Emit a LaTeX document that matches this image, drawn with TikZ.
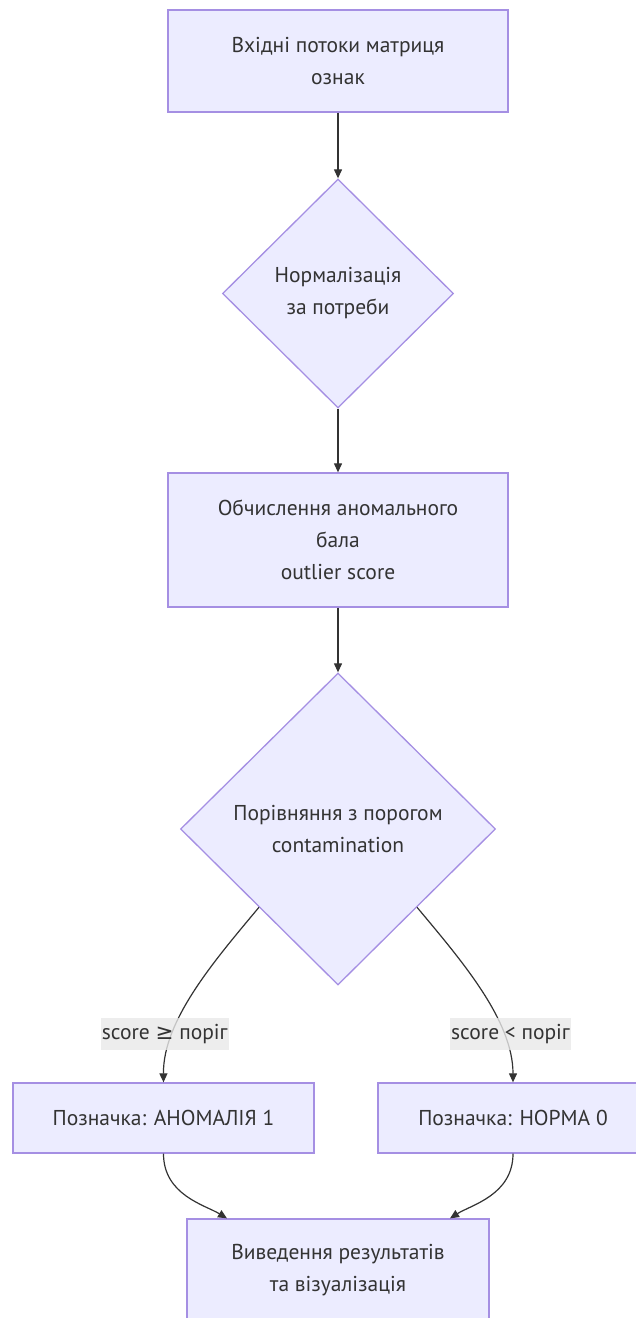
\documentclass[tikz,border=0pt]{standalone}
\usepackage{fontspec}
\setmainfont{PT Sans}
\newfontfamily\symbolfont{DejaVu Sans}
\usetikzlibrary{shapes.geometric}
\usetikzlibrary{calc}
\usetikzlibrary{arrows.meta}
\definecolor{node_fill}{HTML}{ECECFF}
\definecolor{node_border}{HTML}{A58FE3}
\definecolor{edge_line}{HTML}{333333}
\definecolor{label_fill}{HTML}{E8E8E8}

\begin{document}
\begin{tikzpicture}[x=1pt,y=-1pt]
\tikzstyle{process}=[rectangle,draw=node_border,fill=node_fill,line width=1.3pt,text=edge_line,align=center,inner sep=0pt,font=\fontsize{21.5}{32}\selectfont];
\tikzstyle{decision}=[diamond,draw=node_border,fill=node_fill,line width=1.3pt,text=edge_line,align=center,inner sep=0pt,font=\fontsize{21.5}{32}\selectfont];
\tikzstyle{flow}=[draw=edge_line,line width=1.2pt,-{Triangle[length=9pt,width=8pt]}];
\tikzstyle{edge_label}=[fill=label_fill,fill opacity=0.8,text opacity=1,text=edge_line,inner xsep=1pt,minimum height=32,font=\fontsize{21.5}{32}\selectfont];
\useasboundingbox (0,0) rectangle (635,1318);
\coordinate (input_pos) at (338,61);
\coordinate (normalize_pos) at (338,293.5);
\coordinate (score_pos) at (338,540);
\coordinate (compare_pos) at (338,829);
\coordinate (anomaly_pos) at (163.5,1118);
\coordinate (normal_pos) at (513,1118);
\coordinate (output_pos) at (338,1270);
\node (input) at (input_pos) [process,minimum width=340,minimum height=102] {Вхідні потоки матриця\\ознак};
\node (normalize) at (normalize_pos) [decision,minimum width=231,minimum height=229] {Нормалізація\\за потреби};
\node (score) at (score_pos) [process,minimum width=340,minimum height=134] {Обчислення аномального\\бала\\outlier score};
\node (compare) at (compare_pos) [decision,minimum width=315,minimum height=312] {Порівняння з порогом\\contamination};
\node (anomaly) at (anomaly_pos) [process,minimum width=301,minimum height=70] {Позначка: АНОМАЛІЯ 1};
\node (normal) at (normal_pos) [process,minimum width=270,minimum height=70] {Позначка: НОРМА 0};
\node (output) at (output_pos) [process,minimum width=302,minimum height=102] {Виведення результатів\\та візуалізація};
\path (input) -- (normalize) [flow];
\path (normalize) -- (score) [flow];
\path (score) -- (compare) [flow];
\path (compare.south west) .. controls (215,960) and (163,1020) .. (anomaly.north) [flow] node [edge_label,pos=0.74,xshift=-8] (ge_label) {score {\symbolfont ≥} поріг};
\path (compare.south east) .. controls (461,960) and (513,1020) .. (normal.north) [flow] node [edge_label,pos=0.74,xshift=7] (lt_label) {score < поріг};
\path (anomaly.south) .. controls (163.5,1195) and (205,1205) .. ($ (output.north)+(-111,0) $) [flow];
\path (normal.south) .. controls (513,1195) and (471,1205) .. ($ (output.north)+(112,0) $) [flow];
\end{tikzpicture}
\end{document}
